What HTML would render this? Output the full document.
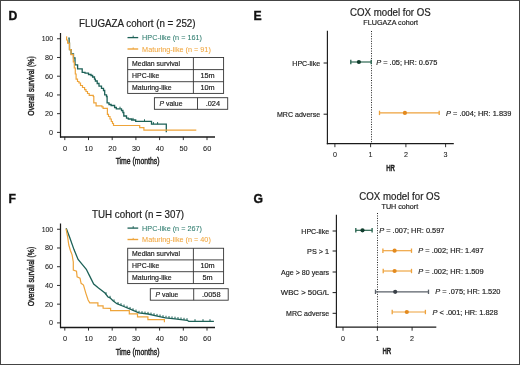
<!DOCTYPE html>
<html><head><meta charset="utf-8"><style>
html,body{margin:0;padding:0;background:#fff;}
#c{position:relative;width:520px;height:365px;overflow:hidden;background:#fff;will-change:transform;}
#b{position:absolute;left:0;top:0;width:520px;height:365px;box-sizing:border-box;border:1px solid #444;}
svg{position:absolute;left:0;top:0;filter:blur(0.3px);}
text{font-family:"Liberation Sans",sans-serif;}
</style></head><body><div id="c">
<svg width="520" height="365" viewBox="0 0 520 365">
<text x="8.4" y="20" font-size="12.2" text-anchor="start" fill="#111" font-weight="bold" stroke="#111" stroke-width="0.35">D</text>
<g transform="translate(79,27.3) scale(1,1.07)">
<text x="0" y="0" font-size="9.8" text-anchor="start" fill="#222" font-weight="normal"  stroke="#222" stroke-width="0.18">FLUGAZA cohort (n = 252)</text>
</g>
<line x1="127.5" y1="37.6" x2="138.2" y2="37.6" stroke="#1d6157" stroke-width="1.3" />
<line x1="133.2" y1="35.6" x2="133.2" y2="37.6" stroke="#1d6157" stroke-width="0.9" />
<text x="142.1" y="40.3" font-size="7.25" text-anchor="start" fill="#2b7a6c" font-weight="normal"  stroke="#2b7a6c" stroke-width="0.05">HPC-like (n = 161)</text>
<line x1="127.5" y1="49" x2="138.2" y2="49" stroke="#eea43a" stroke-width="1.4" />
<line x1="133.2" y1="47.4" x2="133.2" y2="49" stroke="#eea43a" stroke-width="0.9" />
<text x="142.1" y="51.7" font-size="7.25" text-anchor="start" fill="#f0a43a" font-weight="normal"  stroke="#f0a43a" stroke-width="0.05">Maturing-like (n = 91)</text>
<rect x="127.7" y="57.5" width="95.9" height="35.900000000000006" fill="none" stroke="#333" stroke-width="0.9"/>
<line x1="127.7" y1="69.6" x2="223.6" y2="69.6" stroke="#333" stroke-width="0.9" />
<line x1="127.7" y1="81.7" x2="223.6" y2="81.7" stroke="#333" stroke-width="0.9" />
<line x1="193.4" y1="57.5" x2="193.4" y2="93.4" stroke="#333" stroke-width="0.9" />
<text x="132.1" y="66.05" font-size="6.9" text-anchor="start" fill="#222" font-weight="normal"  stroke="#222" stroke-width="0.18">Median survival</text>
<text x="132.1" y="78.15" font-size="6.9" text-anchor="start" fill="#222" font-weight="normal"  stroke="#222" stroke-width="0.18">HPC-like</text>
<text x="132.1" y="90.05000000000001" font-size="6.9" text-anchor="start" fill="#222" font-weight="normal"  stroke="#222" stroke-width="0.18">Maturing-like</text>
<text x="207.5" y="78.25" font-size="7.3" text-anchor="middle" fill="#222" font-weight="normal"  stroke="#222" stroke-width="0.18">15m</text>
<text x="207.5" y="90.15" font-size="7.3" text-anchor="middle" fill="#222" font-weight="normal"  stroke="#222" stroke-width="0.18">10m</text>
<rect x="154.4" y="97.7" width="73.29999999999998" height="11.599999999999994" fill="none" stroke="#333" stroke-width="0.9"/>
<line x1="197.5" y1="97.7" x2="197.5" y2="109.3" stroke="#333" stroke-width="0.9" />
<text x="159.6" y="105.95" font-size="6.85" text-anchor="start" fill="#222" font-weight="normal"  stroke="#222" stroke-width="0.18"><tspan font-style="italic">P</tspan> value</text>
<text x="212.9" y="106.1" font-size="7.4" text-anchor="middle" fill="#222" font-weight="normal"  stroke="#222" stroke-width="0.18">.024</text>
<line x1="60.5" y1="33" x2="60.5" y2="137.6" stroke="#1a1a1a" stroke-width="1.25" />
<line x1="60" y1="136.9" x2="215" y2="136.9" stroke="#1a1a1a" stroke-width="1.5" />
<line x1="57" y1="132.4" x2="60.5" y2="132.4" stroke="#1a1a1a" stroke-width="0.9" />
<text x="53.1" y="134.85" font-size="7.9" text-anchor="end" fill="#222" font-weight="normal" textLength="4.0" lengthAdjust="spacingAndGlyphs" stroke="#222" stroke-width="0.08">0</text>
<line x1="57" y1="113.67" x2="60.5" y2="113.67" stroke="#1a1a1a" stroke-width="0.9" />
<text x="53.1" y="116.12" font-size="7.9" text-anchor="end" fill="#222" font-weight="normal" textLength="8.0" lengthAdjust="spacingAndGlyphs" stroke="#222" stroke-width="0.08">20</text>
<line x1="57" y1="94.94" x2="60.5" y2="94.94" stroke="#1a1a1a" stroke-width="0.9" />
<text x="53.1" y="97.39" font-size="7.9" text-anchor="end" fill="#222" font-weight="normal" textLength="8.0" lengthAdjust="spacingAndGlyphs" stroke="#222" stroke-width="0.08">40</text>
<line x1="57" y1="76.21" x2="60.5" y2="76.21" stroke="#1a1a1a" stroke-width="0.9" />
<text x="53.1" y="78.66" font-size="7.9" text-anchor="end" fill="#222" font-weight="normal" textLength="8.0" lengthAdjust="spacingAndGlyphs" stroke="#222" stroke-width="0.08">60</text>
<line x1="57" y1="57.480000000000004" x2="60.5" y2="57.480000000000004" stroke="#1a1a1a" stroke-width="0.9" />
<text x="53.1" y="59.93000000000001" font-size="7.9" text-anchor="end" fill="#222" font-weight="normal" textLength="8.0" lengthAdjust="spacingAndGlyphs" stroke="#222" stroke-width="0.08">80</text>
<line x1="57" y1="38.75" x2="60.5" y2="38.75" stroke="#1a1a1a" stroke-width="0.9" />
<text x="53.1" y="41.2" font-size="7.9" text-anchor="end" fill="#222" font-weight="normal" textLength="11.4" lengthAdjust="spacingAndGlyphs" stroke="#222" stroke-width="0.08">100</text>
<line x1="64.8" y1="136.9" x2="64.8" y2="140.1" stroke="#1a1a1a" stroke-width="0.9" />
<text x="65.0" y="150.9" font-size="7.9" text-anchor="middle" fill="#222" font-weight="normal" textLength="4.1" lengthAdjust="spacingAndGlyphs" stroke="#222" stroke-width="0.08">0</text>
<line x1="88.5" y1="136.9" x2="88.5" y2="140.1" stroke="#1a1a1a" stroke-width="0.9" />
<text x="88.7" y="150.9" font-size="7.9" text-anchor="middle" fill="#222" font-weight="normal" textLength="8.2" lengthAdjust="spacingAndGlyphs" stroke="#222" stroke-width="0.08">10</text>
<line x1="112.19999999999999" y1="136.9" x2="112.19999999999999" y2="140.1" stroke="#1a1a1a" stroke-width="0.9" />
<text x="112.39999999999999" y="150.9" font-size="7.9" text-anchor="middle" fill="#222" font-weight="normal" textLength="8.2" lengthAdjust="spacingAndGlyphs" stroke="#222" stroke-width="0.08">20</text>
<line x1="135.89999999999998" y1="136.9" x2="135.89999999999998" y2="140.1" stroke="#1a1a1a" stroke-width="0.9" />
<text x="136.09999999999997" y="150.9" font-size="7.9" text-anchor="middle" fill="#222" font-weight="normal" textLength="8.2" lengthAdjust="spacingAndGlyphs" stroke="#222" stroke-width="0.08">30</text>
<line x1="159.6" y1="136.9" x2="159.6" y2="140.1" stroke="#1a1a1a" stroke-width="0.9" />
<text x="159.79999999999998" y="150.9" font-size="7.9" text-anchor="middle" fill="#222" font-weight="normal" textLength="8.2" lengthAdjust="spacingAndGlyphs" stroke="#222" stroke-width="0.08">40</text>
<line x1="183.3" y1="136.9" x2="183.3" y2="140.1" stroke="#1a1a1a" stroke-width="0.9" />
<text x="183.5" y="150.9" font-size="7.9" text-anchor="middle" fill="#222" font-weight="normal" textLength="8.2" lengthAdjust="spacingAndGlyphs" stroke="#222" stroke-width="0.08">50</text>
<line x1="207.0" y1="136.9" x2="207.0" y2="140.1" stroke="#1a1a1a" stroke-width="0.9" />
<text x="207.2" y="150.9" font-size="7.9" text-anchor="middle" fill="#222" font-weight="normal" textLength="8.2" lengthAdjust="spacingAndGlyphs" stroke="#222" stroke-width="0.08">60</text>
<text transform="translate(137.6,164.3) scale(0.7,1)" font-size="9.8" text-anchor="middle" fill="#222" stroke="#222" stroke-width="0.45">Time (months)</text>
<text transform="translate(34.2,86) rotate(-90) scale(0.7,1)" font-size="9.8" text-anchor="middle" fill="#222" stroke="#222" stroke-width="0.45">Overall survival (%)</text>
<polyline points="68.30,38.20 69.10,38.20 69.10,43.10 69.50,43.10 69.50,49.70 71.10,49.70 71.10,54.00 73.50,54.00 73.50,57.80 75.00,57.80 75.00,64.80 77.60,64.80 77.60,68.80 82.20,68.80 82.20,72.30 85.00,72.30 85.00,73.20 88.50,73.20 88.50,74.50 91.00,74.50 91.00,75.50 92.60,75.50 92.60,77.00 94.50,77.00 94.50,79.20 95.40,79.20 95.40,81.00 97.20,81.00 97.20,83.50 99.00,83.50 99.00,86.10 101.50,86.10 101.50,88.40 103.50,88.40 103.50,90.50 104.70,90.50 104.70,94.80 106.50,94.80 106.50,96.50 107.10,96.50 107.10,102.90 109.00,102.90 109.00,104.50 111.10,104.50 111.10,105.50 114.60,105.50 114.60,107.50 116.30,107.50 116.30,108.80 121.50,108.80 121.50,110.50 122.90,110.50 122.90,112.50 123.80,112.50 123.80,116.00 126.50,116.00 126.50,118.10 128.30,118.10 128.30,119.00 131.60,119.00 131.60,120.00 135.70,120.00 135.70,121.40 151.50,121.40 151.50,124.20 166.30,124.20 166.30,132.30" fill="none" stroke="#1d6157" stroke-width="1.3"/>
<line x1="144.5" y1="119.30000000000001" x2="144.5" y2="121.4" stroke="#1d6157" stroke-width="1.0" />
<line x1="153.4" y1="122.10000000000001" x2="153.4" y2="124.2" stroke="#1d6157" stroke-width="1.0" />
<line x1="157.6" y1="122.10000000000001" x2="157.6" y2="124.2" stroke="#1d6157" stroke-width="1.0" />
<line x1="133" y1="117.9" x2="133" y2="120" stroke="#1d6157" stroke-width="1.0" />
<line x1="120" y1="106.7" x2="120" y2="108.8" stroke="#1d6157" stroke-width="1.0" />
<polyline points="66.20,36.80 66.60,36.80 66.60,40.00 67.60,40.00 67.60,43.10 69.50,43.10 69.50,49.70 71.10,49.70 71.10,54.70 73.30,54.70 73.30,62.00 74.30,62.00 74.30,68.00 75.30,68.00 75.30,74.00 76.10,74.00 76.10,79.20 77.50,79.20 77.50,81.50 79.00,81.50 79.00,83.00 80.50,83.00 80.50,85.50 82.50,85.50 82.50,87.50 84.60,87.50 84.60,89.60 86.00,89.60 86.00,91.50 87.50,91.50 87.50,93.50 89.20,93.50 89.20,95.40 93.30,95.40 93.30,96.50 93.80,96.50 93.80,102.90 96.10,102.90 96.10,105.80 101.90,105.80 101.90,106.80 103.10,106.80 103.10,108.30 107.40,108.30 107.40,114.40 108.50,114.40 108.50,116.50 110.00,116.50 110.00,119.00 111.30,119.00 111.30,121.50 112.50,121.50 112.50,123.50 113.50,123.50 113.50,125.50 139.70,125.50 139.70,127.70 143.90,127.70 143.90,130.20 196.30,130.20" fill="none" stroke="#eea43a" stroke-width="1.2"/>
<text x="8.4" y="203.2" font-size="12.2" text-anchor="start" fill="#111" font-weight="bold" stroke="#111" stroke-width="0.35">F</text>
<g transform="translate(92,217.8) scale(1,1.07)">
<text x="0" y="0" font-size="9.8" text-anchor="start" fill="#222" font-weight="normal"  stroke="#222" stroke-width="0.18">TUH cohort (n = 307)</text>
</g>
<line x1="127.5" y1="228.1" x2="138.2" y2="228.1" stroke="#1d6157" stroke-width="1.3" />
<line x1="133.2" y1="226.1" x2="133.2" y2="228.1" stroke="#1d6157" stroke-width="0.9" />
<text x="142.1" y="230.8" font-size="7.25" text-anchor="start" fill="#2b7a6c" font-weight="normal"  stroke="#2b7a6c" stroke-width="0.05">HPC-like (n = 267)</text>
<line x1="127.5" y1="239.5" x2="138.2" y2="239.5" stroke="#eea43a" stroke-width="1.4" />
<line x1="133.2" y1="237.9" x2="133.2" y2="239.5" stroke="#eea43a" stroke-width="0.9" />
<text x="142.1" y="242.2" font-size="7.25" text-anchor="start" fill="#f0a43a" font-weight="normal"  stroke="#f0a43a" stroke-width="0.05">Maturing-like (n = 40)</text>
<rect x="127.7" y="248.25" width="95.9" height="35.35000000000002" fill="none" stroke="#333" stroke-width="0.9"/>
<line x1="127.7" y1="259.9" x2="223.6" y2="259.9" stroke="#333" stroke-width="0.9" />
<line x1="127.7" y1="271.7" x2="223.6" y2="271.7" stroke="#333" stroke-width="0.9" />
<line x1="193.4" y1="248.25" x2="193.4" y2="283.6" stroke="#333" stroke-width="0.9" />
<text x="132.1" y="256.29999999999995" font-size="6.9" text-anchor="start" fill="#222" font-weight="normal"  stroke="#222" stroke-width="0.18">Median survival</text>
<text x="132.1" y="268.29999999999995" font-size="6.9" text-anchor="start" fill="#222" font-weight="normal"  stroke="#222" stroke-width="0.18">HPC-like</text>
<text x="132.1" y="280.15" font-size="6.9" text-anchor="start" fill="#222" font-weight="normal"  stroke="#222" stroke-width="0.18">Maturing-like</text>
<text x="207.5" y="268.4" font-size="7.3" text-anchor="middle" fill="#222" font-weight="normal"  stroke="#222" stroke-width="0.18">10m</text>
<text x="207.5" y="280.25" font-size="7.3" text-anchor="middle" fill="#222" font-weight="normal"  stroke="#222" stroke-width="0.18">5m</text>
<rect x="150.3" y="288.7" width="77.89999999999998" height="11.5" fill="none" stroke="#333" stroke-width="0.9"/>
<line x1="193.7" y1="288.7" x2="193.7" y2="300.2" stroke="#333" stroke-width="0.9" />
<text x="155.5" y="296.9" font-size="6.85" text-anchor="start" fill="#222" font-weight="normal"  stroke="#222" stroke-width="0.18"><tspan font-style="italic">P</tspan> value</text>
<text x="211.25" y="297.05" font-size="7.4" text-anchor="middle" fill="#222" font-weight="normal"  stroke="#222" stroke-width="0.18">.0058</text>
<line x1="60.5" y1="223.5" x2="60.5" y2="328.09999999999997" stroke="#1a1a1a" stroke-width="1.25" />
<line x1="60" y1="327.4" x2="215" y2="327.4" stroke="#1a1a1a" stroke-width="1.5" />
<line x1="57" y1="322.9" x2="60.5" y2="322.9" stroke="#1a1a1a" stroke-width="0.9" />
<text x="53.1" y="325.34999999999997" font-size="7.9" text-anchor="end" fill="#222" font-weight="normal" textLength="4.0" lengthAdjust="spacingAndGlyphs" stroke="#222" stroke-width="0.08">0</text>
<line x1="57" y1="304.16999999999996" x2="60.5" y2="304.16999999999996" stroke="#1a1a1a" stroke-width="0.9" />
<text x="53.1" y="306.61999999999995" font-size="7.9" text-anchor="end" fill="#222" font-weight="normal" textLength="8.0" lengthAdjust="spacingAndGlyphs" stroke="#222" stroke-width="0.08">20</text>
<line x1="57" y1="285.44" x2="60.5" y2="285.44" stroke="#1a1a1a" stroke-width="0.9" />
<text x="53.1" y="287.89" font-size="7.9" text-anchor="end" fill="#222" font-weight="normal" textLength="8.0" lengthAdjust="spacingAndGlyphs" stroke="#222" stroke-width="0.08">40</text>
<line x1="57" y1="266.71" x2="60.5" y2="266.71" stroke="#1a1a1a" stroke-width="0.9" />
<text x="53.1" y="269.15999999999997" font-size="7.9" text-anchor="end" fill="#222" font-weight="normal" textLength="8.0" lengthAdjust="spacingAndGlyphs" stroke="#222" stroke-width="0.08">60</text>
<line x1="57" y1="247.98" x2="60.5" y2="247.98" stroke="#1a1a1a" stroke-width="0.9" />
<text x="53.1" y="250.42999999999998" font-size="7.9" text-anchor="end" fill="#222" font-weight="normal" textLength="8.0" lengthAdjust="spacingAndGlyphs" stroke="#222" stroke-width="0.08">80</text>
<line x1="57" y1="229.25" x2="60.5" y2="229.25" stroke="#1a1a1a" stroke-width="0.9" />
<text x="53.1" y="231.7" font-size="7.9" text-anchor="end" fill="#222" font-weight="normal" textLength="11.4" lengthAdjust="spacingAndGlyphs" stroke="#222" stroke-width="0.08">100</text>
<line x1="64.8" y1="327.4" x2="64.8" y2="330.59999999999997" stroke="#1a1a1a" stroke-width="0.9" />
<text x="65.0" y="341.4" font-size="7.9" text-anchor="middle" fill="#222" font-weight="normal" textLength="4.1" lengthAdjust="spacingAndGlyphs" stroke="#222" stroke-width="0.08">0</text>
<line x1="88.5" y1="327.4" x2="88.5" y2="330.59999999999997" stroke="#1a1a1a" stroke-width="0.9" />
<text x="88.7" y="341.4" font-size="7.9" text-anchor="middle" fill="#222" font-weight="normal" textLength="8.2" lengthAdjust="spacingAndGlyphs" stroke="#222" stroke-width="0.08">10</text>
<line x1="112.19999999999999" y1="327.4" x2="112.19999999999999" y2="330.59999999999997" stroke="#1a1a1a" stroke-width="0.9" />
<text x="112.39999999999999" y="341.4" font-size="7.9" text-anchor="middle" fill="#222" font-weight="normal" textLength="8.2" lengthAdjust="spacingAndGlyphs" stroke="#222" stroke-width="0.08">20</text>
<line x1="135.89999999999998" y1="327.4" x2="135.89999999999998" y2="330.59999999999997" stroke="#1a1a1a" stroke-width="0.9" />
<text x="136.09999999999997" y="341.4" font-size="7.9" text-anchor="middle" fill="#222" font-weight="normal" textLength="8.2" lengthAdjust="spacingAndGlyphs" stroke="#222" stroke-width="0.08">30</text>
<line x1="159.6" y1="327.4" x2="159.6" y2="330.59999999999997" stroke="#1a1a1a" stroke-width="0.9" />
<text x="159.79999999999998" y="341.4" font-size="7.9" text-anchor="middle" fill="#222" font-weight="normal" textLength="8.2" lengthAdjust="spacingAndGlyphs" stroke="#222" stroke-width="0.08">40</text>
<line x1="183.3" y1="327.4" x2="183.3" y2="330.59999999999997" stroke="#1a1a1a" stroke-width="0.9" />
<text x="183.5" y="341.4" font-size="7.9" text-anchor="middle" fill="#222" font-weight="normal" textLength="8.2" lengthAdjust="spacingAndGlyphs" stroke="#222" stroke-width="0.08">50</text>
<line x1="207.0" y1="327.4" x2="207.0" y2="330.59999999999997" stroke="#1a1a1a" stroke-width="0.9" />
<text x="207.2" y="341.4" font-size="7.9" text-anchor="middle" fill="#222" font-weight="normal" textLength="8.2" lengthAdjust="spacingAndGlyphs" stroke="#222" stroke-width="0.08">60</text>
<text transform="translate(137.6,354.8) scale(0.7,1)" font-size="9.8" text-anchor="middle" fill="#222" stroke="#222" stroke-width="0.45">Time (months)</text>
<text transform="translate(34.2,276.5) rotate(-90) scale(0.7,1)" font-size="9.8" text-anchor="middle" fill="#222" stroke="#222" stroke-width="0.45">Overall survival (%)</text>
<polyline points="66.20,228.30 69.90,238.10 74.00,249.60 78.10,259.50 82.20,264.40 86.30,269.30 89.60,275.90 93.70,284.10 98.50,288.00 105.00,293.00 108.00,297.00 110.00,297.90 113.00,300.80 116.90,303.70 123.80,306.50 130.80,309.40 138.80,312.90 148.10,314.00 156.10,315.80 165.40,317.80 175.00,318.80 187.10,320.30 188.80,321.30 213.90,321.30" fill="none" stroke="#1d6157" stroke-width="1.3"/>
<line x1="106" y1="292.2333333333333" x2="106" y2="294.3333333333333" stroke="#1d6157" stroke-width="1.0" />
<line x1="110" y1="295.79999999999995" x2="110" y2="297.9" stroke="#1d6157" stroke-width="1.0" />
<line x1="114" y1="299.4435897435897" x2="114" y2="301.54358974358973" stroke="#1d6157" stroke-width="1.0" />
<line x1="118" y1="302.04637681159414" x2="118" y2="304.14637681159417" stroke="#1d6157" stroke-width="1.0" />
<line x1="121" y1="303.263768115942" x2="121" y2="305.36376811594204" stroke="#1d6157" stroke-width="1.0" />
<line x1="124" y1="304.48285714285714" x2="124" y2="306.58285714285716" stroke="#1d6157" stroke-width="1.0" />
<line x1="127" y1="305.7257142857143" x2="127" y2="307.8257142857143" stroke="#1d6157" stroke-width="1.0" />
<line x1="130" y1="306.9685714285714" x2="130" y2="309.06857142857143" stroke="#1d6157" stroke-width="1.0" />
<line x1="133" y1="308.26249999999993" x2="133" y2="310.36249999999995" stroke="#1d6157" stroke-width="1.0" />
<line x1="136" y1="309.57499999999993" x2="136" y2="311.67499999999995" stroke="#1d6157" stroke-width="1.0" />
<line x1="139" y1="310.8236559139784" x2="139" y2="312.92365591397845" stroke="#1d6157" stroke-width="1.0" />
<line x1="142" y1="311.17849462365587" x2="142" y2="313.2784946236559" stroke="#1d6157" stroke-width="1.0" />
<line x1="145" y1="311.5333333333333" x2="145" y2="313.6333333333333" stroke="#1d6157" stroke-width="1.0" />
<line x1="148" y1="311.88817204301074" x2="148" y2="313.98817204301076" stroke="#1d6157" stroke-width="1.0" />
<line x1="151" y1="312.5525" x2="151" y2="314.65250000000003" stroke="#1d6157" stroke-width="1.0" />
<line x1="154" y1="313.22749999999996" x2="154" y2="315.3275" stroke="#1d6157" stroke-width="1.0" />
<line x1="157" y1="313.89354838709676" x2="157" y2="315.9935483870968" stroke="#1d6157" stroke-width="1.0" />
<line x1="160" y1="314.5387096774193" x2="160" y2="316.63870967741934" stroke="#1d6157" stroke-width="1.0" />
<line x1="163" y1="315.18387096774194" x2="163" y2="317.28387096774196" stroke="#1d6157" stroke-width="1.0" />
<line x1="166" y1="315.7625" x2="166" y2="317.8625" stroke="#1d6157" stroke-width="1.0" />
<line x1="169" y1="316.075" x2="169" y2="318.175" stroke="#1d6157" stroke-width="1.0" />
<line x1="172" y1="316.3875" x2="172" y2="318.4875" stroke="#1d6157" stroke-width="1.0" />
<line x1="175" y1="316.7" x2="175" y2="318.8" stroke="#1d6157" stroke-width="1.0" />
<line x1="178" y1="317.07190082644627" x2="178" y2="319.1719008264463" stroke="#1d6157" stroke-width="1.0" />
<line x1="181" y1="317.44380165289255" x2="181" y2="319.54380165289257" stroke="#1d6157" stroke-width="1.0" />
<line x1="184" y1="317.8157024793388" x2="184" y2="319.91570247933885" stroke="#1d6157" stroke-width="1.0" />
<line x1="187" y1="318.1876033057851" x2="187" y2="320.2876033057851" stroke="#1d6157" stroke-width="1.0" />
<line x1="195" y1="319.2" x2="195" y2="321.3" stroke="#1d6157" stroke-width="1.0" />
<line x1="203" y1="319.2" x2="203" y2="321.3" stroke="#1d6157" stroke-width="1.0" />
<line x1="210" y1="319.2" x2="210" y2="321.3" stroke="#1d6157" stroke-width="1.0" />
<polyline points="66.00,228.60 67.70,237.40 68.80,245.00 70.40,250.50 72.10,254.90 73.30,262.00 73.30,270.00 76.50,271.10 77.10,276.90 80.00,278.10 81.10,283.30 83.50,285.00 85.80,293.10 88.10,300.00 89.80,302.90 97.90,302.90 97.90,305.80 103.10,305.80 103.10,308.10 110.60,308.30 110.60,310.70 129.30,310.70 129.30,313.80 137.50,313.80 137.50,316.80 147.90,316.80 147.90,319.70 164.40,319.70 164.40,322.30" fill="none" stroke="#eea43a" stroke-width="1.2"/>
<text x="253.6" y="20" font-size="12.2" text-anchor="start" fill="#111" font-weight="bold" stroke="#111" stroke-width="0.35">E</text>
<g transform="translate(350,15.6) scale(1,1.07)">
<text x="0" y="0" font-size="9.7" text-anchor="start" fill="#222" font-weight="normal"  stroke="#222" stroke-width="0.18">COX model for OS</text>
</g>
<text x="363.3" y="24.7" font-size="7.2" text-anchor="start" fill="#222" font-weight="normal"  stroke="#222" stroke-width="0.18">FLUGAZA cohort</text>
<line x1="327.4" y1="30.7" x2="327.4" y2="144.2" stroke="#1a1a1a" stroke-width="1.15" />
<line x1="326.79999999999995" y1="143.6" x2="453.8" y2="143.6" stroke="#1a1a1a" stroke-width="1.3" />
<line x1="371.5" y1="31" x2="371.5" y2="143.6" stroke="#222" stroke-width="1" stroke-dasharray="1 1.45"/>
<line x1="334.9" y1="143.6" x2="334.9" y2="147.2" stroke="#1a1a1a" stroke-width="0.9" />
<text x="334.9" y="157.1" font-size="7.6" text-anchor="middle" fill="#222" font-weight="normal" textLength="4.0" lengthAdjust="spacingAndGlyphs" stroke="#222" stroke-width="0.08">0</text>
<line x1="370.6" y1="143.6" x2="370.6" y2="147.2" stroke="#1a1a1a" stroke-width="0.9" />
<text x="370.6" y="157.1" font-size="7.6" text-anchor="middle" fill="#222" font-weight="normal" textLength="4.0" lengthAdjust="spacingAndGlyphs" stroke="#222" stroke-width="0.08">1</text>
<line x1="405.9" y1="143.6" x2="405.9" y2="147.2" stroke="#1a1a1a" stroke-width="0.9" />
<text x="405.9" y="157.1" font-size="7.6" text-anchor="middle" fill="#222" font-weight="normal" textLength="4.0" lengthAdjust="spacingAndGlyphs" stroke="#222" stroke-width="0.08">2</text>
<line x1="445.6" y1="143.6" x2="445.6" y2="147.2" stroke="#1a1a1a" stroke-width="0.9" />
<text x="445.6" y="157.1" font-size="7.6" text-anchor="middle" fill="#222" font-weight="normal" textLength="4.0" lengthAdjust="spacingAndGlyphs" stroke="#222" stroke-width="0.08">3</text>
<text transform="translate(390.6,171) scale(0.62,1)" font-size="9.8" text-anchor="middle" fill="#222" stroke="#222" stroke-width="0.6">HR</text>
<line x1="323.59999999999997" y1="63" x2="327.4" y2="63" stroke="#1a1a1a" stroke-width="1.0" />
<text x="292.29999999999995" y="65.5" font-size="7.5" text-anchor="start" fill="#222" font-weight="normal" textLength="27.8" lengthAdjust="spacingAndGlyphs" stroke="#222" stroke-width="0.18">HPC-like</text>
<line x1="350.8" y1="62" x2="371.2" y2="62" stroke="#23604a" stroke-width="1.15" />
<line x1="350.8" y1="59.8" x2="350.8" y2="64.2" stroke="#23604a" stroke-width="1.3" />
<line x1="371.2" y1="59.8" x2="371.2" y2="64.2" stroke="#23604a" stroke-width="1.3" />
<circle cx="358.9" cy="62" r="2.1" fill="#113d2d"/>
<text x="376.2" y="64.6" font-size="7.42" text-anchor="start" fill="#222" font-weight="normal"  stroke="#222" stroke-width="0.18"><tspan font-style="italic">P</tspan> = .05; HR: 0.675</text>
<line x1="323.59999999999997" y1="114.2" x2="327.4" y2="114.2" stroke="#1a1a1a" stroke-width="1.0" />
<text x="276.99999999999994" y="116.7" font-size="7.5" text-anchor="start" fill="#222" font-weight="normal" textLength="43.1" lengthAdjust="spacingAndGlyphs" stroke="#222" stroke-width="0.18">MRC adverse</text>
<line x1="379.5" y1="112.9" x2="439.2" y2="112.9" stroke="#eea23c" stroke-width="1.15" />
<line x1="379.5" y1="110.7" x2="379.5" y2="115.10000000000001" stroke="#eea23c" stroke-width="1.3" />
<line x1="439.2" y1="110.7" x2="439.2" y2="115.10000000000001" stroke="#eea23c" stroke-width="1.3" />
<circle cx="404.9" cy="112.9" r="2.1" fill="#e38a1e"/>
<text x="446" y="115.5" font-size="7.42" text-anchor="start" fill="#222" font-weight="normal"  stroke="#222" stroke-width="0.18"><tspan font-style="italic">P</tspan> = .004; HR: 1.839</text>
<text x="253.6" y="203.3" font-size="12.2" text-anchor="start" fill="#111" font-weight="bold" stroke="#111" stroke-width="0.35">G</text>
<g transform="translate(359.3,200.1) scale(1,1.07)">
<text x="0" y="0" font-size="9.7" text-anchor="start" fill="#222" font-weight="normal"  stroke="#222" stroke-width="0.18">COX model for OS</text>
</g>
<text x="381.5" y="208.7" font-size="7.2" text-anchor="start" fill="#222" font-weight="normal"  stroke="#222" stroke-width="0.18">TUH cohort</text>
<line x1="336.4" y1="214.8" x2="336.4" y2="327.70000000000005" stroke="#1a1a1a" stroke-width="1.15" />
<line x1="335.79999999999995" y1="327.1" x2="436.3" y2="327.1" stroke="#1a1a1a" stroke-width="1.3" />
<line x1="377.5" y1="213" x2="377.5" y2="327.1" stroke="#222" stroke-width="1" stroke-dasharray="1 1.45"/>
<line x1="343" y1="327.1" x2="343" y2="330.70000000000005" stroke="#1a1a1a" stroke-width="0.9" />
<text x="343" y="340.6" font-size="7.6" text-anchor="middle" fill="#222" font-weight="normal" textLength="4.0" lengthAdjust="spacingAndGlyphs" stroke="#222" stroke-width="0.08">0</text>
<line x1="377.4" y1="327.1" x2="377.4" y2="330.70000000000005" stroke="#1a1a1a" stroke-width="0.9" />
<text x="377.4" y="340.6" font-size="7.6" text-anchor="middle" fill="#222" font-weight="normal" textLength="4.0" lengthAdjust="spacingAndGlyphs" stroke="#222" stroke-width="0.08">1</text>
<line x1="412.1" y1="327.1" x2="412.1" y2="330.70000000000005" stroke="#1a1a1a" stroke-width="0.9" />
<text x="412.1" y="340.6" font-size="7.6" text-anchor="middle" fill="#222" font-weight="normal" textLength="4.0" lengthAdjust="spacingAndGlyphs" stroke="#222" stroke-width="0.08">2</text>
<text transform="translate(386.8,354.3) scale(0.62,1)" font-size="9.8" text-anchor="middle" fill="#222" stroke="#222" stroke-width="0.6">HR</text>
<line x1="332.59999999999997" y1="231" x2="336.4" y2="231" stroke="#1a1a1a" stroke-width="1.0" />
<text x="301.29999999999995" y="233.5" font-size="7.5" text-anchor="start" fill="#222" font-weight="normal" textLength="27.8" lengthAdjust="spacingAndGlyphs" stroke="#222" stroke-width="0.18">HPC-like</text>
<line x1="355.8" y1="230.3" x2="372.1" y2="230.3" stroke="#23604a" stroke-width="1.15" />
<line x1="355.8" y1="228.10000000000002" x2="355.8" y2="232.5" stroke="#23604a" stroke-width="1.3" />
<line x1="372.1" y1="228.10000000000002" x2="372.1" y2="232.5" stroke="#23604a" stroke-width="1.3" />
<circle cx="362.5" cy="230.3" r="2.1" fill="#113d2d"/>
<text x="379.2" y="232.9" font-size="7.42" text-anchor="start" fill="#222" font-weight="normal"  stroke="#222" stroke-width="0.18"><tspan font-style="italic">P</tspan> = .007; HR: 0.597</text>
<line x1="332.59999999999997" y1="251" x2="336.4" y2="251" stroke="#1a1a1a" stroke-width="1.0" />
<text x="307.09999999999997" y="253.5" font-size="7.5" text-anchor="start" fill="#222" font-weight="normal" textLength="22" lengthAdjust="spacingAndGlyphs" stroke="#222" stroke-width="0.18">PS &gt; 1</text>
<line x1="382.9" y1="250.7" x2="411.5" y2="250.7" stroke="#eea23c" stroke-width="1.15" />
<line x1="382.9" y1="248.5" x2="382.9" y2="252.89999999999998" stroke="#eea23c" stroke-width="1.3" />
<line x1="411.5" y1="248.5" x2="411.5" y2="252.89999999999998" stroke="#eea23c" stroke-width="1.3" />
<circle cx="394.6" cy="250.7" r="2.1" fill="#e38a1e"/>
<text x="418.3" y="253.29999999999998" font-size="7.42" text-anchor="start" fill="#222" font-weight="normal"  stroke="#222" stroke-width="0.18"><tspan font-style="italic">P</tspan> = .002; HR: 1.497</text>
<line x1="332.59999999999997" y1="272" x2="336.4" y2="272" stroke="#1a1a1a" stroke-width="1.0" />
<text x="281.09999999999997" y="274.5" font-size="7.5" text-anchor="start" fill="#222" font-weight="normal" textLength="48" lengthAdjust="spacingAndGlyphs" stroke="#222" stroke-width="0.18">Age &gt; 80 years</text>
<line x1="383.2" y1="271" x2="411.5" y2="271" stroke="#eea23c" stroke-width="1.15" />
<line x1="383.2" y1="268.8" x2="383.2" y2="273.2" stroke="#eea23c" stroke-width="1.3" />
<line x1="411.5" y1="268.8" x2="411.5" y2="273.2" stroke="#eea23c" stroke-width="1.3" />
<circle cx="394.6" cy="271" r="2.1" fill="#e38a1e"/>
<text x="418.3" y="273.6" font-size="7.42" text-anchor="start" fill="#222" font-weight="normal"  stroke="#222" stroke-width="0.18"><tspan font-style="italic">P</tspan> = .002; HR: 1.509</text>
<line x1="332.59999999999997" y1="292.6" x2="336.4" y2="292.6" stroke="#1a1a1a" stroke-width="1.0" />
<text x="280.79999999999995" y="295.1" font-size="7.5" text-anchor="start" fill="#222" font-weight="normal" textLength="48.3" lengthAdjust="spacingAndGlyphs" stroke="#222" stroke-width="0.18">WBC &gt; 50G/L</text>
<line x1="375.5" y1="291.8" x2="428.5" y2="291.8" stroke="#5a6068" stroke-width="1.15" />
<line x1="375.5" y1="289.6" x2="375.5" y2="294.0" stroke="#5a6068" stroke-width="1.3" />
<line x1="428.5" y1="289.6" x2="428.5" y2="294.0" stroke="#5a6068" stroke-width="1.3" />
<circle cx="395.2" cy="291.8" r="2.1" fill="#3a4048"/>
<text x="435.2" y="294.40000000000003" font-size="7.42" text-anchor="start" fill="#222" font-weight="normal"  stroke="#222" stroke-width="0.18"><tspan font-style="italic">P</tspan> = .075; HR: 1.520</text>
<line x1="332.59999999999997" y1="313.3" x2="336.4" y2="313.3" stroke="#1a1a1a" stroke-width="1.0" />
<text x="286.09999999999997" y="315.8" font-size="7.5" text-anchor="start" fill="#222" font-weight="normal" textLength="43" lengthAdjust="spacingAndGlyphs" stroke="#222" stroke-width="0.18">MRC adverse</text>
<line x1="392.2" y1="312" x2="425.4" y2="312" stroke="#eea23c" stroke-width="1.15" />
<line x1="392.2" y1="309.8" x2="392.2" y2="314.2" stroke="#eea23c" stroke-width="1.3" />
<line x1="425.4" y1="309.8" x2="425.4" y2="314.2" stroke="#eea23c" stroke-width="1.3" />
<circle cx="406.8" cy="312" r="2.1" fill="#e38a1e"/>
<text x="432.5" y="314.6" font-size="7.42" text-anchor="start" fill="#222" font-weight="normal"  stroke="#222" stroke-width="0.18"><tspan font-style="italic">P</tspan> &lt; .001; HR: 1.828</text>
</svg><div id="b"></div></div></body></html>
